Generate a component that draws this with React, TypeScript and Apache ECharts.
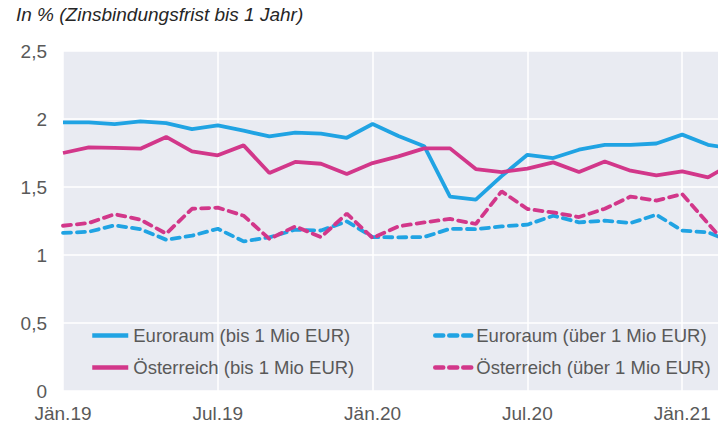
import React, { useEffect, useRef } from "react";
import * as echarts from "echarts";

const months = ["Jän", "Feb", "Mär", "Apr", "Mai", "Jun", "Jul", "Aug", "Sep", "Okt", "Nov", "Dez"];
const categories: string[] = [];
for (let y = 19; y <= 21; y++) {
  for (let m = 0; m < 12; m++) {
    if (y === 21 && m > 2) break;
    categories.push(`${months[m]}.${y}`);
  }
}

const euroBis = [1.975, 1.975, 1.963, 1.982, 1.97, 1.926, 1.953, 1.914, 1.872, 1.9, 1.892, 1.862, 1.963, 1.875, 1.8, 1.43, 1.407, 1.58, 1.737, 1.713, 1.774, 1.81, 1.81, 1.82, 1.885, 1.81, 1.78];
const euroUeber = [1.162, 1.171, 1.218, 1.19, 1.112, 1.142, 1.193, 1.1, 1.13, 1.186, 1.18, 1.247, 1.132, 1.13, 1.132, 1.193, 1.19, 1.21, 1.223, 1.289, 1.24, 1.252, 1.235, 1.296, 1.18, 1.166, 1.09];
const oestBis = [1.75, 1.791, 1.787, 1.782, 1.868, 1.762, 1.733, 1.806, 1.603, 1.684, 1.671, 1.596, 1.676, 1.725, 1.784, 1.784, 1.632, 1.61, 1.635, 1.681, 1.61, 1.688, 1.62, 1.585, 1.615, 1.571, 1.68];
const oestUeber = [1.215, 1.235, 1.3, 1.26, 1.157, 1.34, 1.348, 1.289, 1.118, 1.21, 1.132, 1.304, 1.125, 1.21, 1.24, 1.265, 1.228, 1.468, 1.338, 1.313, 1.279, 1.34, 1.43, 1.4, 1.448, 1.232, 1.016];

const seriesNames = [
  "Euroraum (bis 1 Mio EUR)",
  "Euroraum (über 1 Mio EUR)",
  "Österreich (bis 1 Mio EUR)",
  "Österreich (über 1 Mio EUR)",
];

const BLUE = "#20A3E3";
const MAGENTA = "#D2378A";
const TEXT = "#595959";
const FONT = "'Liberation Sans', Arial, sans-serif";

export default function App() {
  const ref = useRef<HTMLDivElement>(null);
  useEffect(() => {
    if (!ref.current) return;
    const chart = echarts.init(ref.current, undefined, { renderer: "svg" });
    const dash = [8, 6];
    const legendBase = (name: string, left: number, top: number) => ({
      show: true,
      data: [name],
      left,
      top,
      padding: 0,
      itemWidth: 36,
      itemHeight: 14,
      itemStyle: { opacity: 0, borderWidth: 0 },
      lineStyle: { width: 4.5 },
      textStyle: { fontSize: 18.5, color: TEXT, fontFamily: FONT },
    });
    chart.setOption({
      animation: false,
      textStyle: { fontFamily: FONT },
      graphic: [
        {
          type: "text",
          left: 16,
          top: 5,
          style: {
            text: "In % (Zinsbindungsfrist bis 1 Jahr)",
            font: `italic 19px ${FONT}`,
            fill: "#262626",
          },
        },
      ],
      legend: [
        legendBase(seriesNames[0], 90, 326),
        legendBase(seriesNames[1], 433, 326),
        legendBase(seriesNames[2], 90, 358),
        legendBase(seriesNames[3], 433, 358),
      ],
      grid: {
        left: 63,
        top: 51,
        width: 670.8,
        height: 340.5,
        show: true,
        backgroundColor: "#E9EBF2",
        borderWidth: 0,
        containLabel: false,
      },
      xAxis: {
        type: "category",
        data: categories,
        boundaryGap: false,
        axisLine: { show: false },
        axisTick: { show: false },
        axisLabel: {
          interval: 5,
          fontSize: 19,
          color: TEXT,
          margin: 13,
          fontFamily: FONT,
        },
        splitLine: {
          show: true,
          interval: 5,
          lineStyle: { color: "#FFFFFF", width: 1.5 },
        },
      },
      yAxis: {
        type: "value",
        min: 0,
        max: 2.5,
        interval: 0.5,
        axisLine: { show: false },
        axisTick: { show: false },
        axisLabel: {
          fontSize: 19,
          color: TEXT,
          margin: 16,
          fontFamily: FONT,
          formatter: (v: number) => String(v).replace(".", ","),
        },
        splitLine: { lineStyle: { color: "#FFFFFF", width: 1.5 } },
      },
      series: [
        {
          name: seriesNames[0],
          type: "line",
          data: euroBis,
          symbol: "none",
          itemStyle: { color: BLUE },
          lineStyle: { color: BLUE, width: 3.8 },
        },
        {
          name: seriesNames[1],
          type: "line",
          data: euroUeber,
          symbol: "none",
          itemStyle: { color: BLUE },
          lineStyle: { color: BLUE, width: 3.8, type: dash, cap: "round" },
        },
        {
          name: seriesNames[2],
          type: "line",
          data: oestBis,
          symbol: "none",
          itemStyle: { color: MAGENTA },
          lineStyle: { color: MAGENTA, width: 3.8 },
        },
        {
          name: seriesNames[3],
          type: "line",
          data: oestUeber,
          symbol: "none",
          itemStyle: { color: MAGENTA },
          lineStyle: { color: MAGENTA, width: 3.8, type: dash, cap: "round" },
        },
      ],
    });
    return () => chart.dispose();
  }, []);
  return (
    <div
      style={{
        position: "fixed",
        left: 0,
        top: 0,
        width: 718,
        height: 423,
        overflow: "hidden",
        background: "#FFFFFF",
      }}
    >
      <div ref={ref} style={{ width: 760, height: 423 }} />
    </div>
  );
}
